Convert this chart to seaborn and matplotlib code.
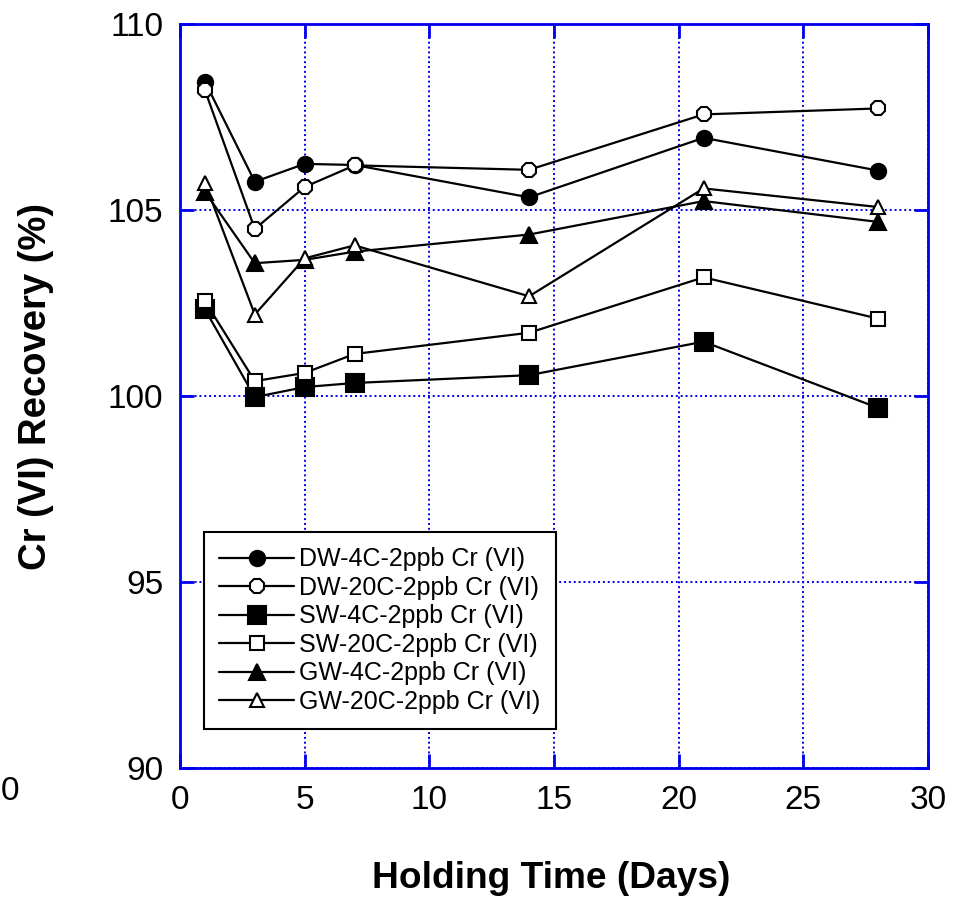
import matplotlib
matplotlib.use("Agg")
import matplotlib.pyplot as plt
import seaborn as sns
import pandas as pd

days = [1, 3, 5, 7, 14, 21, 28]
dw_4c = [108.45, 105.76, 106.24, 106.21, 105.34, 106.94, 106.06]
dw_20c = [108.22, 104.49, 105.62, 106.20, 106.08, 107.57, 107.73]
sw_4c = [102.33, 99.97, 100.24, 100.35, 100.56, 101.46, 99.68]
sw_20c = [102.55, 100.40, 100.62, 101.13, 101.70, 103.19, 102.08]
gw_4c = [105.49, 103.57, 103.66, 103.88, 104.34, 105.24, 104.68]
gw_20c = [105.73, 102.19, 103.70, 104.05, 102.68, 105.58, 105.08]

labels = ["DW-4C-2ppb Cr (VI)", "DW-20C-2ppb Cr (VI)", "SW-4C-2ppb Cr (VI)",
          "SW-20C-2ppb Cr (VI)", "GW-4C-2ppb Cr (VI)", "GW-20C-2ppb Cr (VI)"]
series = [dw_4c, dw_20c, sw_4c, sw_20c, gw_4c, gw_20c]
markers = ["o", "8", "s", "s", "^", "^"]
filled = [True, False, True, False, True, False]
msizes = [11, 11, 12.5, 9.5, 11, 10]

xticks = [0, 5, 10, 15, 20, 25, 30]
yticks = [90, 95, 100, 105, 110]

sns.set_theme(style="white")
plt.rcParams["font.family"] = ["Liberation Sans", "DejaVu Sans"]
plt.rcParams["text.color"] = "black"

fig = plt.figure(figsize=(9.63, 9.0), dpi=100)
ax = fig.add_axes([180 / 963, 1 - 768 / 900, 748 / 963, 744 / 900])

for lab, vals, mk, fl, ms in zip(labels, series, markers, filled, msizes):
    df = pd.DataFrame({"Days": days, "Recovery": vals})
    sns.lineplot(data=df, x="Days", y="Recovery", ax=ax, color="black",
                 linewidth=1.6, marker=mk, markersize=ms,
                 markerfacecolor="black" if fl else "white",
                 markeredgecolor="black", markeredgewidth=1.5,
                 label=lab, zorder=3)

ax.set_xlim(0, 30)
ax.set_ylim(90, 110)
ax.set_xticks(xticks)
ax.set_yticks(yticks)
ax.set_xticklabels([str(t) for t in xticks])
ax.set_yticklabels([str(t) for t in yticks])

ax.grid(True, color="#0000ee", linestyle=(0, (1, 1.5)), linewidth=1.4, zorder=0)
for sp in ax.spines.values():
    sp.set_color("#0000ee")
    sp.set_linewidth(2)
    sp.set_visible(True)

ax.tick_params(axis="both", which="major", direction="in", length=10, width=2,
               color="#0000ee", labelcolor="black", labelsize=24,
               top=True, right=True, bottom=True, left=True, pad=12)

ax.set_xlabel("Holding Time (Days)", fontsize=26.7, fontweight="bold", color="black")
ax.set_ylabel("Cr (VI) Recovery (%)", fontsize=27.5, fontweight="bold", color="black")
ax.xaxis.set_label_coords(0.496, -0.125)
ax.yaxis.set_label_coords(-0.168, 0.513)

leg = ax.legend(loc="lower left", bbox_to_anchor=(0.032, 0.052), borderaxespad=0,
                fontsize=18, frameon=True, fancybox=False, framealpha=1,
                edgecolor="black", handlelength=3.0, handletextpad=0.2,
                labelspacing=0.18, borderpad=0.62)
leg.get_frame().set_linewidth(1.5)
for t in leg.get_texts():
    t.set_color("black")

fig.text(0.5 / 963, 1 - 792 / 900, "0", fontsize=24, ha="left", va="center", color="black")

fig.savefig("out.png", dpi=100)
